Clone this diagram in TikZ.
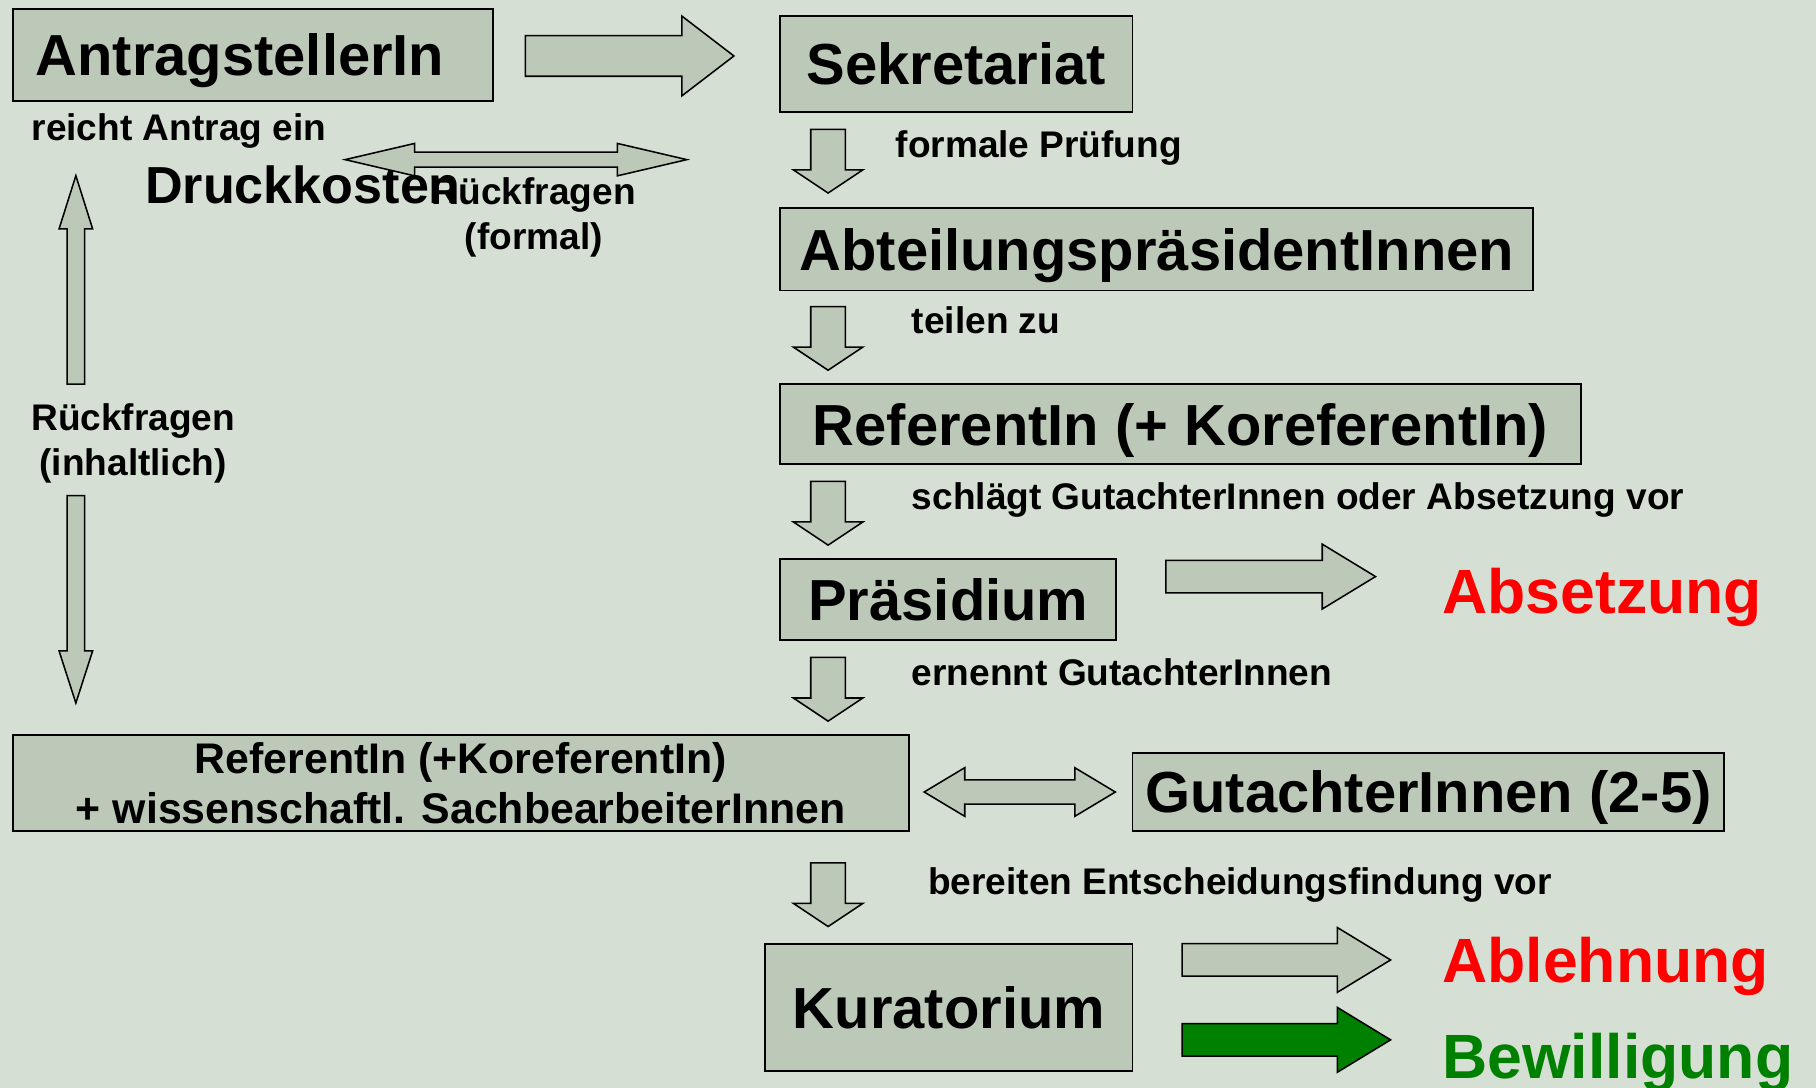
\documentclass[tikz,border=0pt]{standalone}
\usepackage{fontspec}
\setmainfont{Liberation Sans}
\usetikzlibrary{calc}
\definecolor{slidebg}{HTML}{D6DFD3}
\definecolor{boxfill}{HTML}{BDC9B8}
\definecolor{okgreen}{HTML}{008000}
\definecolor{nored}{HTML}{FF0000}
\newlength{\px}
\setlength{\px}{0.6pt}
\newcommand{\boxfont}{\bfseries\fontsize{30}{36}\selectfont}
\newcommand{\teamfont}{\bfseries\fontsize{22.2}{25.8}\selectfont}
\newcommand{\notefont}{\bfseries\fontsize{19.2}{23.4}\selectfont}
\newcommand{\resultfont}{\bfseries\fontsize{32.4}{38}\selectfont}
\tikzset{
  stage/.style={draw=black,line width=1pt,fill=boxfill,inner sep=0pt,anchor=north west,
    font=\boxfont,text height=27pt,text depth=5.4pt},
  teambox/.style={draw=black,line width=1pt,fill=boxfill,inner sep=0pt,anchor=north west,
    font=\teamfont,align=center},
  note/.style={anchor=base west,inner sep=0pt,font=\notefont},
  notepair/.style={inner sep=0pt,font=\notefont,align=center},
  result/.style={anchor=base west,inner sep=0pt,font=\resultfont},
  arrowline/.style={draw=black,line width=.8pt,fill=boxfill,line join=miter},
  greenarrow/.style={arrowline/.append style={fill=okgreen}},
  pics/blockarrow/.style n args={4}{code={
    \draw[arrowline] (0,-#2) -- (#1-#4,-#2) -- (#1-#4,-#3) -- (#1,0)
      -- (#1-#4,#3) -- (#1-#4,#2) -- (0,#2) -- cycle;}},
  pics/doublearrow/.style n args={4}{code={
    \draw[arrowline] (0,0) -- (#4,-#3) -- (#4,-#2) -- (#1-#4,-#2) -- (#1-#4,-#3)
      -- (#1,0) -- (#1-#4,#3) -- (#1-#4,#2) -- (#4,#2) -- (#4,#3) -- cycle;}},
}
\begin{document}
\begin{tikzpicture}[x=0.6pt,y=-0.6pt]
  \fill[slidebg] (0,0) rectangle (1568,939);
  \useasboundingbox (0,0) rectangle (1568,939);

  % main column
  \node[stage,inner xsep=20\px,text width=375\px,align=left,minimum height=79\px] (antrag) at (10,7) {AntragstellerIn};
  \node[stage,minimum width=304\px,minimum height=83\px] (sekretariat) at (673,13) {Sekretariat};
  \node[stage,minimum width=650\px,minimum height=71\px] (abteilung) at (673,179) {AbteilungspräsidentInnen};
  \node[stage,minimum width=691\px,minimum height=69\px] (referent) at (673,331) {ReferentIn (+ KoreferentIn)};
  \node[stage,minimum width=290\px,minimum height=70\px] (praesidium) at (673,482) {Präsidium};
  \node[teambox,minimum width=774\px,minimum height=83\px] (team) at (10,634)
    {ReferentIn (+KoreferentIn)\\+ wissenschaftl. SachbearbeiterInnen};
  \node[stage,minimum width=511\px,minimum height=68\px] (gutachter) at (977,649) {GutachterInnen (2-5)};
  \node[stage,minimum width=317\px,minimum height=110\px] (kuratorium) at (660,814) {Kuratorium};

  % outcomes
  \node[result,text=nored] (absetzung) at (1245,530) {Absetzung};
  \node[result,text=nored] (ablehnung) at (1245,848) {Ablehnung};
  \node[result,text=okgreen] (bewilligung) at (1245,931) {Bewilligung};

  % step labels
  \node[note] (einreichen) at (27,121) {reicht Antrag ein};
  \node[note,font=\bfseries\fontsize{27}{32}\selectfont] (druckkosten) at (125,176) {Druckkosten};
  \node[notepair] (formal) at (461,188) {Rückfragen\\(formal)};
  \node[notepair] (inhaltlich) at (115,383) {Rückfragen\\(inhaltlich)};
  \node[note] (pruefung) at (773,136) {formale Prüfung};
  \node[note] (zuteilen) at (787,288) {teilen zu};
  \node[note] (vorschlag) at (787,440) {schlägt GutachterInnen oder Absetzung vor};
  \node[note] (ernennen) at (787,592) {ernennt GutachterInnen};
  \node[note] (vorbereiten) at (801,772) {bereiten Entscheidungsfindung vor};

  % block arrows
  \pic at ($(antrag.east)+(27,1)$) {blockarrow={180}{17.5}{34.5}{45}};
  \pic[rotate=-90] at ($(sekretariat.south west)+(42,14)$) {blockarrow={55}{15}{30}{20}};
  \pic[rotate=-90] at ($(abteilung.south west)+(42,13)$) {blockarrow={55}{15}{30}{20}};
  \pic[rotate=-90] at ($(referent.south west)+(42,14)$) {blockarrow={55}{15}{30}{20}};
  \pic[rotate=-90] at ($(praesidium.south west)+(42,14)$) {blockarrow={55}{15}{30}{20}};
  \pic[rotate=-90] at ($(kuratorium.north west)+(55,-69)$) {blockarrow={55}{15}{30}{20}};
  \pic at ($(praesidium.east)+(42,-20)$) {blockarrow={181}{14}{28}{46}};
  \pic at ($(kuratorium.east)+(42,-41)$) {blockarrow={180}{14}{28}{46}};
  \pic[greenarrow] at ($(kuratorium.east)+(42,28)$) {blockarrow={180}{14}{28}{46}};
  \pic[rotate=90] at ($(antrag.south west)+(55.5,244)$) {blockarrow={180}{7.5}{14.5}{46}};
  \pic[rotate=-90] at ($(team.north west)+(55.5,-206)$) {blockarrow={179}{7.5}{14.5}{45}};
  \pic at ($(sekretariat.west)+(-375,82.5)$) {doublearrow={295}{6.5}{14}{60}};
  \pic at ($(gutachter.west)+(-179,0)$) {doublearrow={165}{10.5}{21}{35}};
\end{tikzpicture}
\end{document}
